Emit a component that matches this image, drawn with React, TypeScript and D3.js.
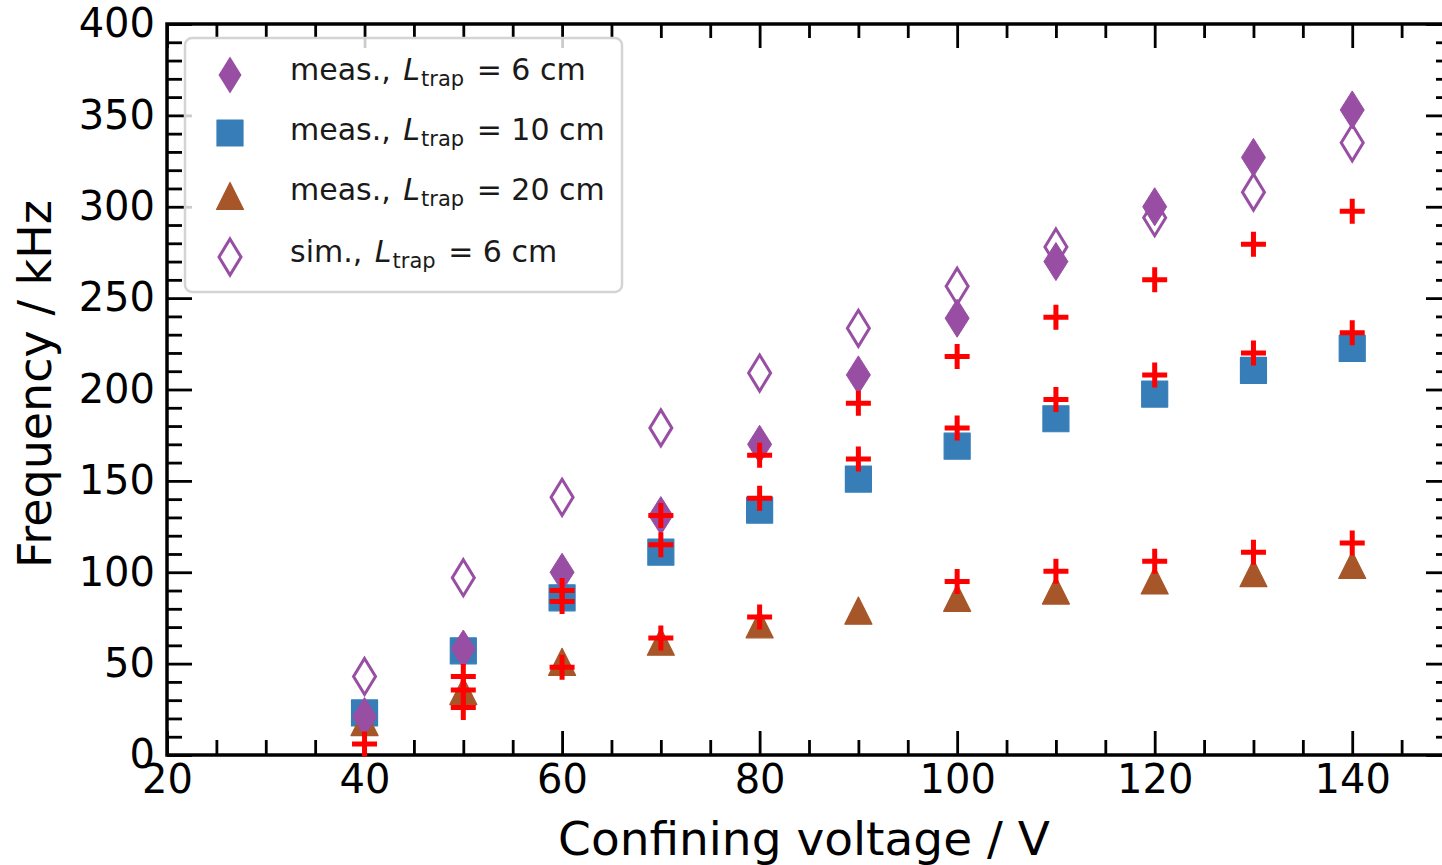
import React, { useEffect, useRef } from 'react';
import * as d3 from 'd3';

// confining voltage (V)
const volts = [40, 50, 60, 70, 80, 90, 100, 110, 120, 130, 140];
// measured frequencies (kHz)
const meas6 = [21, 58, 100, 131, 170, 208, 239, 270, 300, 327, 353];
const meas10 = [23, 57, 86, 111, 134, 151, 169, 184, 197.5, 210.5, 222.5];
const meas20 = [18, 35, 51, 62, 71.5, 79, 86, 90, 95.5, 99.5, 104];
// simulated, L_trap = 6 cm
const sim6 = [43, 97, 141, 179, 209, 233.5, 256.5, 278, 294, 308, 335];
// red crosses
const cross6 = [null, 43, 90, 131, 164, 192.5, 218, 239.5, 260, 279.5, 297.5];
const cross10 = [null, 35.5, 84, 115, 140.5, 162, 179, 194.5, 208, 220, 231];
const cross20 = [6, 26, 48, 64, 75.5, null, 95, 100.5, 106, 111, 116];

const xMajor = [20, 40, 60, 80, 100, 120, 140];
const yMajor = [0, 50, 100, 150, 200, 250, 300, 350, 400];

const legendItems = [
  { pre: 'meas., ', post: ' = 6 cm', shape: 'diamond' },
  { pre: 'meas., ', post: ' = 10 cm', shape: 'square' },
  { pre: 'meas., ', post: ' = 20 cm', shape: 'triangle' },
  { pre: 'sim., ', post: ' = 6 cm', shape: 'hollow' },
];

const PURPLE = '#984ea3';
const BLUE = '#377eb8';
const BROWN = '#a65628';
const FONT = 'DejaVu Sans, sans-serif';

const diamondPath = (w: number, h: number) =>
  `M0,${-h / 2}L${w / 2},0L0,${h / 2}L${-w / 2},0Z`;

export default function App() {
  const ref = useRef<SVGSVGElement>(null);

  useEffect(() => {
    const svg = d3.select(ref.current);
    svg.selectAll('*').remove();

    const left = 167, right = 1451, top = 24, bottom = 755;
    const x = d3.scaleLinear().domain([20, 150]).range([left, right]);
    const y = d3.scaleLinear().domain([0, 400]).range([bottom, top]);

    const xMinor = d3.range(20, 151, 5).filter(v => !xMajor.includes(v));
    const yMinor = d3.range(0, 401, 10).filter(v => !yMajor.includes(v));

    const styleAxis = (g: any) => {
      g.select('.domain').remove();
      g.selectAll('line').attr('stroke', '#000').attr('stroke-width', 2.8);
      g.selectAll('text').attr('font-family', FONT).attr('font-size', 40).attr('fill', '#000');
    };

    // bottom
    svg.append('g').attr('transform', `translate(0,${bottom})`)
      .call(d3.axisBottom(x).tickValues(xMajor).tickSize(-24).tickPadding(10).tickFormat(d3.format('d')))
      .call(styleAxis);
    svg.append('g').attr('transform', `translate(0,${bottom})`)
      .call(d3.axisBottom(x).tickValues(xMinor).tickSize(-15).tickFormat(() => ''))
      .call(styleAxis);
    // top
    svg.append('g').attr('transform', `translate(0,${top})`)
      .call(d3.axisTop(x).tickValues(xMajor).tickSize(-24).tickFormat(() => ''))
      .call(styleAxis);
    svg.append('g').attr('transform', `translate(0,${top})`)
      .call(d3.axisTop(x).tickValues(xMinor).tickSize(-14).tickFormat(() => ''))
      .call(styleAxis);
    // left
    svg.append('g').attr('transform', `translate(${left},0)`)
      .call(d3.axisLeft(y).tickValues(yMajor).tickSize(-25).tickPadding(12).tickFormat(d3.format('d')))
      .call(styleAxis);
    svg.append('g').attr('transform', `translate(${left},0)`)
      .call(d3.axisLeft(y).tickValues(yMinor).tickSize(-15).tickFormat(() => ''))
      .call(styleAxis);
    // right
    svg.append('g').attr('transform', `translate(${right},0)`)
      .call(d3.axisRight(y).tickValues(yMajor).tickSize(-25).tickFormat(() => ''))
      .call(styleAxis);
    svg.append('g').attr('transform', `translate(${right},0)`)
      .call(d3.axisRight(y).tickValues(yMinor).tickSize(-15).tickFormat(() => ''))
      .call(styleAxis);

    // frame
    svg.append('rect')
      .attr('x', left).attr('y', top)
      .attr('width', right - left).attr('height', bottom - top)
      .attr('fill', 'none').attr('stroke', '#000').attr('stroke-width', 3.5);

    const pts = (vals: (number | null)[]) =>
      volts.map((v, i) => ({ v, f: vals[i] })).filter(d => d.f != null) as { v: number; f: number }[];

    const marks = svg.append('g');

    // simulated (hollow diamonds)
    marks.selectAll('.sim').data(pts(sim6)).join('path')
      .attr('transform', d => `translate(${x(d.v)},${y(d.f)})`)
      .attr('d', diamondPath(22, 36))
      .attr('fill', 'none').attr('stroke', PURPLE).attr('stroke-width', 3);

    // squares
    marks.selectAll('.sq').data(pts(meas10)).join('rect')
      .attr('x', d => x(d.v) - 13).attr('y', d => y(d.f) - 13)
      .attr('width', 26).attr('height', 26)
      .attr('fill', BLUE).attr('stroke', BLUE).attr('stroke-width', 1.2)
      .attr('stroke-linejoin', 'round');

    // triangles
    marks.selectAll('.tri').data(pts(meas20)).join('path')
      .attr('transform', d => `translate(${x(d.v)},${y(d.f)})`)
      .attr('d', 'M0,-13.5L13.5,13.5L-13.5,13.5Z')
      .attr('fill', BROWN).attr('stroke', BROWN).attr('stroke-width', 1.2)
      .attr('stroke-linejoin', 'round');

    // filled diamonds
    marks.selectAll('.dia').data(pts(meas6)).join('path')
      .attr('transform', d => `translate(${x(d.v)},${y(d.f)})`)
      .attr('d', diamondPath(24, 38))
      .attr('fill', PURPLE).attr('stroke', PURPLE).attr('stroke-width', 1);

    // red crosses
    const crosses = [...pts(cross6), ...pts(cross10), ...pts(cross20)];
    marks.selectAll('.cross').data(crosses).join('path')
      .attr('transform', d => `translate(${x(d.v)},${y(d.f)})`)
      .attr('d', 'M-12.5,0H12.5M0,-12.5V12.5')
      .attr('fill', 'none').attr('stroke', '#ff0000').attr('stroke-width', 5);

    // legend
    const lg = svg.append('g');
    lg.append('rect')
      .attr('x', 185).attr('y', 38).attr('width', 437).attr('height', 254).attr('rx', 7)
      .attr('fill', '#fff').attr('fill-opacity', 0.8)
      .attr('stroke', '#d4d4d4').attr('stroke-width', 2.5);

    const rowY = [75, 133, 196, 257];
    const rowBase = [80, 140, 200, 262];
    legendItems.forEach((it, i) => {
      const g = lg.append('g').attr('transform', `translate(230,${rowY[i]})`);
      if (it.shape === 'diamond') {
        g.append('path').attr('d', diamondPath(23, 37)).attr('fill', PURPLE);
      } else if (it.shape === 'square') {
        g.append('rect').attr('x', -13).attr('y', -13).attr('width', 26).attr('height', 26)
          .attr('fill', BLUE).attr('stroke', BLUE).attr('stroke-width', 1.2).attr('stroke-linejoin', 'round');
      } else if (it.shape === 'triangle') {
        g.append('path').attr('d', 'M0,-13.5L13.5,13.5L-13.5,13.5Z')
          .attr('fill', BROWN).attr('stroke', BROWN).attr('stroke-width', 1.2).attr('stroke-linejoin', 'round');
      } else {
        g.append('path').attr('d', diamondPath(22, 36))
          .attr('fill', 'none').attr('stroke', PURPLE).attr('stroke-width', 3);
      }
      const t = lg.append('text')
        .attr('x', 290).attr('y', rowBase[i])
        .attr('font-family', FONT).attr('font-size', 30).attr('fill', '#1a1a1a')
        .attr('xml:space', 'preserve');
      t.append('tspan').text(it.pre);
      t.append('tspan').attr('dx', 3).attr('font-style', 'italic').text('L');
      t.append('tspan').attr('font-size', 21).attr('dx', 1).attr('dy', 6).text('trap');
      t.append('tspan').attr('dx', 3).attr('dy', -6).text(it.post);
    });

    // axis labels
    svg.append('text')
      .attr('x', 804).attr('y', 855)
      .attr('text-anchor', 'middle')
      .attr('font-family', FONT).attr('font-size', 47).attr('fill', '#000')
      .text('Confining voltage / V');
    svg.append('text')
      .attr('transform', 'translate(51,384) rotate(-90)')
      .attr('text-anchor', 'middle')
      .attr('font-family', FONT).attr('font-size', 46).attr('fill', '#000')
      .text('Frequency / kHz');
  }, []);

  return (
    <svg
      ref={ref}
      width={1442}
      height={865}
      style={{ position: 'absolute', left: 0, top: 0, background: '#fff' }}
    />
  );
}
